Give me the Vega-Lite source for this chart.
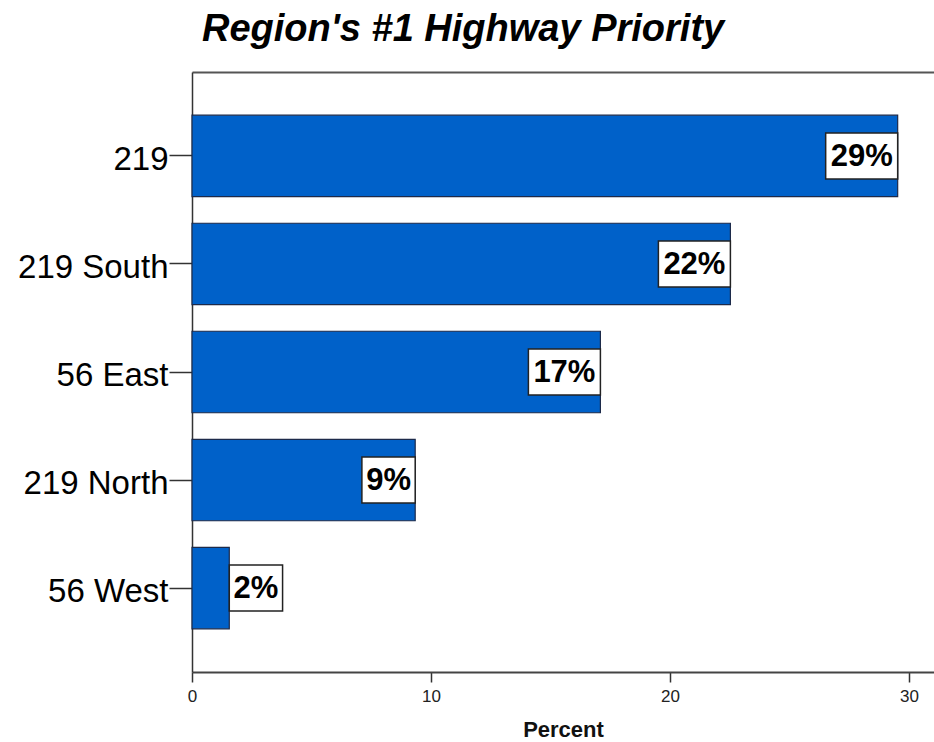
{
  "$schema": "https://vega.github.io/schema/vega-lite/v6.json",
  "width": 742,
  "height": 600,
  "autosize": {"type": "none"},
  "padding": {"left": 192, "top": 72, "right": 0, "bottom": 70},
  "background": "white",
  "title": {
    "text": "Region's #1 Highway Priority",
    "font": "Liberation Sans",
    "fontSize": 38,
    "fontStyle": "italic",
    "fontWeight": "bold",
    "color": "black",
    "anchor": "start",
    "frame": "group",
    "dx": 10,
    "offset": 23
  },
  "data": {
    "values": [
      {"road": "219", "value": 29.53, "label": "29%"},
      {"road": "219 South", "value": 22.53, "label": "22%"},
      {"road": "56 East", "value": 17.09, "label": "17%"},
      {"road": "219 North", "value": 9.34, "label": "9%"},
      {"road": "56 West", "value": 1.56, "label": "2%"}
    ]
  },
  "layer": [
    {
      "mark": {"type": "bar", "color": "#0061C9", "stroke": "#1c2a4a", "strokeWidth": 1.2},
      "encoding": {
        "y": {
          "field": "road", "type": "nominal", "sort": null,
          "scale": {"paddingInner": 0.246, "paddingOuter": 0.4},
          "axis": {
            "title": null, "labelFont": "Liberation Sans", "labelFontSize": 33, "labelColor": "black",
            "tickSize": 23, "tickColor": "#333", "tickWidth": 1.5,
            "domainColor": "#333", "domainWidth": 1.5, "labelPadding": 1, "labelLimit": 0, "labelOffset": 4
          }
        },
        "x": {
          "field": "value", "type": "quantitative",
          "scale": {"domain": [0, 31.05], "nice": false},
          "axis": {
            "orient": "bottom", "values": [0, 10, 20, 30], "grid": false, "labelFlush": false,
            "labelFont": "Liberation Sans", "labelFontSize": 17, "labelColor": "#222",
            "tickSize": 10, "tickColor": "#333", "tickWidth": 1.5,
            "domainColor": "#444", "domainWidth": 2, "labelPadding": 6,
            "title": "Percent", "titleFont": "Liberation Sans", "titleFontSize": 22,
            "titleFontWeight": "bold", "titleColor": "#111", "titlePadding": 15
          }
        }
      }
    },
    {
      "mark": {"type": "rule", "opacity": 0},
      "encoding": {
        "x": {
          "field": "value", "type": "quantitative",
          "axis": {"orient": "top", "labels": false, "ticks": false, "title": null, "grid": false, "domainColor": "#555", "domainWidth": 2}
        }
      }
    },
    {
      "transform": [{"filter": "datum.value >= 10"}],
      "layer": [
        {
          "mark": {"type": "point", "shape": "M-2,-0.639L0,-0.639L0,0.639L-2,0.639Z", "size": 5184, "filled": true, "fill": "white", "stroke": "#222", "strokeWidth": 1.5, "opacity": 1},
          "encoding": {
            "y": {"field": "road", "type": "nominal", "sort": null},
            "x": {"field": "value", "type": "quantitative", "axis": null}
          }
        },
        {
          "mark": {"type": "text", "font": "Liberation Sans", "fontSize": 31, "fontWeight": "bold", "color": "black", "align": "center", "baseline": "middle", "dx": -36, "dy": 1},
          "encoding": {
            "y": {"field": "road", "type": "nominal", "sort": null},
            "x": {"field": "value", "type": "quantitative", "axis": null},
            "text": {"field": "label"}
          }
        }
      ]
    },
    {
      "transform": [{"filter": "datum.value >= 5 && datum.value < 10"}],
      "layer": [
        {
          "mark": {"type": "point", "shape": "M-2,-0.863L0,-0.863L0,0.863L-2,0.863Z", "size": 2841, "filled": true, "fill": "white", "stroke": "#222", "strokeWidth": 1.5, "opacity": 1},
          "encoding": {
            "y": {"field": "road", "type": "nominal", "sort": null},
            "x": {"field": "value", "type": "quantitative", "axis": null}
          }
        },
        {
          "mark": {"type": "text", "font": "Liberation Sans", "fontSize": 31, "fontWeight": "bold", "color": "black", "align": "center", "baseline": "middle", "dx": -26.6, "dy": 1},
          "encoding": {
            "y": {"field": "road", "type": "nominal", "sort": null},
            "x": {"field": "value", "type": "quantitative", "axis": null},
            "text": {"field": "label"}
          }
        }
      ]
    },
    {
      "transform": [{"filter": "datum.value < 5"}],
      "layer": [
        {
          "mark": {"type": "point", "shape": "M0,-0.863L2,-0.863L2,0.863L0,0.863Z", "size": 2841, "filled": true, "fill": "white", "stroke": "#222", "strokeWidth": 1.5, "opacity": 1},
          "encoding": {
            "y": {"field": "road", "type": "nominal", "sort": null},
            "x": {"field": "value", "type": "quantitative", "axis": null}
          }
        },
        {
          "mark": {"type": "text", "font": "Liberation Sans", "fontSize": 31, "fontWeight": "bold", "color": "black", "align": "center", "baseline": "middle", "dx": 26.6, "dy": 1},
          "encoding": {
            "y": {"field": "road", "type": "nominal", "sort": null},
            "x": {"field": "value", "type": "quantitative", "axis": null},
            "text": {"field": "label"}
          }
        }
      ]
    }
  ],
  "resolve": {"axis": {"x": "independent"}},
  "config": {"view": {"stroke": null}}
}
